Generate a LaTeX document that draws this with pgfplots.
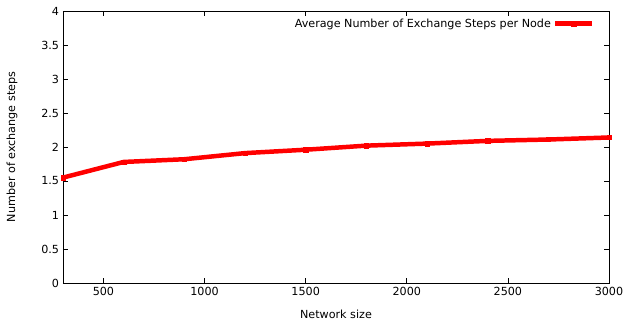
\documentclass[border=0pt]{standalone}
\usepackage{pgfplots}
\pgfplotsset{compat=1.18}
\usepackage{fontspec}
\setmainfont{DejaVu Sans}
\begin{document}
\begin{tikzpicture}
\fontsize{11.2}{13}\selectfont
\path[use as bounding box] (-63bp,-39bp) rectangle (560bp,283bp);
\begin{axis}[
  scale only axis,
  width=546bp, height=272bp,
  xmin=300, xmax=3000, ymin=0, ymax=4,
  xtick={500,1000,1500,2000,2500,3000},
  ytick={0,0.5,1,1.5,2,2.5,3,3.5,4},
  tick align=inside,
  major tick length=5bp,
  axis line style={black, line width=0.8pt},
  tick style={black, line width=0.6pt},
  /pgf/number format/assume math mode=true,
  /pgf/number format/.cd, fixed, 1000 sep={}, /pgfplots/.cd,
  ticklabel style={font=\fontsize{11.2}{13}\selectfont},
  label style={font=\fontsize{11.2}{13}\selectfont},
  xlabel={Network size},
  ylabel={Number of exchange steps},
  xlabel style={at={(axis description cs:0.5,-0.114)}, anchor=center},
  ylabel style={at={(axis description cs:-0.0934,0.5)}, anchor=center},
  legend style={draw=none, fill=none, at={(axis cs:2928,3.92)}, anchor=north east,
    font=\fontsize{11.2}{13}\selectfont, inner sep=0pt},
  legend plot pos=right,
  legend cell align=right,
  legend image code/.code={\draw[#1, mark=none] (0cm,0cm) -- (1.3cm,0cm);
     \draw[#1, only marks] plot coordinates {(0.65cm,0cm)};},
]
\addplot[red, line width=4.5pt, mark=square*, mark size=2.2pt,
  mark options={solid, line width=0.5pt}] coordinates {
(300,1.55) (600,1.78) (900,1.82) (1200,1.91) (1500,1.96)
(1800,2.02) (2100,2.05) (2400,2.09) (2700,2.11) (3000,2.14)
};
\addlegendentry{Average Number of Exchange Steps per Node}
\end{axis}
\end{tikzpicture}
\end{document}
